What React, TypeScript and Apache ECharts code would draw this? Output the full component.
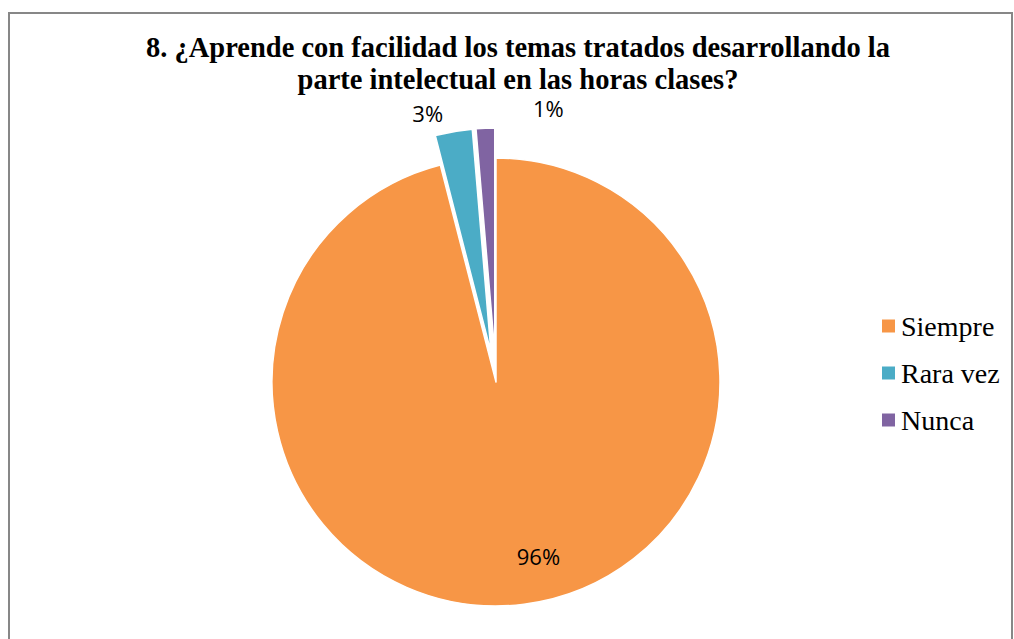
import React, { useEffect, useRef } from "react";
import * as echarts from "echarts";

const titleLines = [
  "8. ¿Aprende con facilidad los temas tratados desarrollando la",
  "parte intelectual en las horas clases?",
];
const categories = ["Siempre", "Rara vez", "Nunca"];
const values = [72, 2, 1];
const colors = ["#F79646", "#4BACC6", "#8064A2"];
const exploded = [false, true, true];

export default function App() {
  const ref = useRef<HTMLDivElement>(null);
  useEffect(() => {
    if (!ref.current) return;
    const chart = echarts.init(ref.current, null, { renderer: "svg" });
    const labelShift = [
      { dx: 28, dy: 60 },
      { dx: 27, dy: -4 },
      { dx: 114, dy: -5 },
    ];
    chart.setOption({
      animation: false,
      backgroundColor: "#ffffff",
      title: {
        text: titleLines.join("\n"),
        left: 518,
        top: 32,
        padding: 0,
        textAlign: "center",
        textStyle: {
          fontFamily: "Liberation Serif",
          fontWeight: "bold",
          fontSize: 28.5,
          lineHeight: 31.5,
          color: "#000000",
        },
      },
      legend: {
        orient: "vertical",
        left: 875,
        top: 307,
        icon: "rect",
        itemWidth: 15,
        itemHeight: 15,
        itemGap: 19,
        data: categories,
        textStyle: {
          fontFamily: "Liberation Serif",
          fontSize: 28,
          color: "#000000",
        },
        selectedMode: false,
      },
      graphic: [
        {
          type: "rect",
          shape: { x: 9, y: 13, width: 1003, height: 660 },
          style: { fill: "none", stroke: "#878787", lineWidth: 2 },
          silent: true,
        },
      ],
      series: [
        {
          type: "pie",
          center: [496, 382],
          radius: 224,
          startAngle: 90,
          clockwise: true,
          selectedMode: "multiple",
          selectedOffset: 30,
          percentPrecision: 0,
          avoidLabelOverlap: false,
          itemStyle: { borderColor: "#ffffff", borderWidth: 1.5 },
          emphasis: { disabled: true },
          label: {
            show: true,
            formatter: "{d}%",
            fontFamily: "Open Sans",
            fontSize: 22,
            lineHeight: 20,
            color: "#000000",
          },
          labelLine: { show: false },
          labelLayout: (p: any) => labelShift[p.dataIndex],
          data: categories.map((name, i) => ({
            name,
            value: values[i],
            selected: exploded[i],
            itemStyle: { color: colors[i] },
            label: {
              position: i === 0 ? "inside" : "outside",
            },
          })),
        },
      ],
    });
    return () => chart.dispose();
  }, []);
  return (
    <div
      ref={ref}
      style={{ position: "fixed", left: 0, top: 0, width: 1014, height: 639 }}
    />
  );
}
